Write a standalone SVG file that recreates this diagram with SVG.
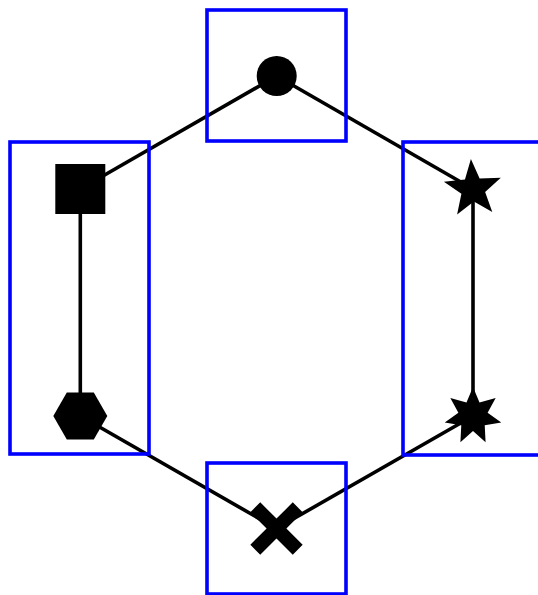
<svg xmlns="http://www.w3.org/2000/svg" width="538" height="595" viewBox="0 0 538 595">
<style>
.edge{stroke:#000;stroke-width:3.6;fill:none}
.box{fill:none;stroke:#0000ff;stroke-width:3.6}
.mk{fill:#000;stroke:none}
</style>
<rect x="0" y="0" width="538" height="595" fill="#fff"/>
<g id="connectors">
<line class="edge" x1="276.7" y1="76" x2="80.3" y2="189"/>
<line class="edge" x1="276.7" y1="76" x2="473" y2="189"/>
<line class="edge" x1="80.3" y1="189" x2="80.3" y2="416"/>
<line class="edge" x1="473" y1="189" x2="473" y2="416"/>
<line class="edge" x1="80.3" y1="416" x2="276.5" y2="528.5"/>
<line class="edge" x1="473" y1="416" x2="276.5" y2="528.5"/>
</g>
<g id="node-circle">
<rect class="box" x="207" y="10" width="139" height="131"/>
<circle class="mk" cx="276.7" cy="76" r="20"/>
</g>
<g id="node-left">
<rect class="box" x="10" y="142" width="139" height="312"/>
</g>
<g id="node-square">
<rect class="mk" x="55.3" y="164" width="50" height="50"/>
</g>
<g id="node-hexagon">
<polygon class="mk" points="107.3,416 93.8,392.6 66.8,392.6 53.3,416 66.8,439.4 93.8,439.4"/>
</g>
<g id="node-right">
<rect class="box" x="403" y="142" width="139" height="313"/>
</g>
<g id="node-star5">
<polygon class="mk" points="470.9,159.07 479.62,178.4 500.82,177.76 485.13,192.02 492.28,211.98 473.87,201.47 457.1,214.44 461.41,193.68 443.89,181.74 464.96,179.42"/>
</g>
<g id="node-star7">
<polygon class="mk" points="473,387 479.51,402.49 495.67,397.92 487.62,412.66 501.27,422.45 484.73,425.35 485.58,442.13 473,431 460.42,442.13 461.27,425.35 444.73,422.45 458.38,412.66 450.33,397.92 466.49,402.49"/>
</g>
<g id="node-cross">
<rect class="box" x="207" y="463" width="139" height="131"/>
<polygon class="mk" transform="translate(276.5 528.5) rotate(45)" points="-30,-7 -7,-7 -7,-30 7,-30 7,-7 30,-7 30,7 7,7 7,30 -7,30 -7,7 -30,7"/>
</g>
</svg>
